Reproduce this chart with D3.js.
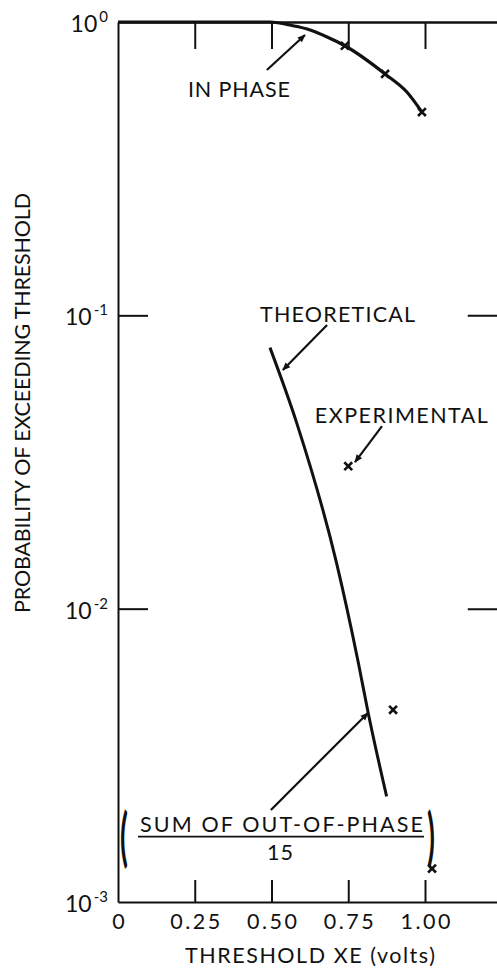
<!DOCTYPE html>
<html>
<head>
<meta charset="utf-8">
<script src="https://cdn.jsdelivr.net/npm/d3@7"></script>
<style>
  html, body { margin: 0; padding: 0; background: #fff; }
  svg { display: block; }
  text { font-family: Lato, "Noto Sans", sans-serif; fill: #111; }
</style>
</head>
<body>
<svg id="chart" width="497" height="968"></svg>
<script>
// Threshold (volts) tick values and their printed labels
const xTickValues = [0, 0.25, 0.5, 0.75, 1.0];
const xTickLabels = ["0", "0.25", "0.50", "0.75", "1.00"];
// Decades on the log probability axis and their exponents
const yTickValues = [1, 0.1, 0.01, 0.001];
const yTickExponents = ["0", "-1", "-2", "-3"];

// In-phase probability curve
const inPhaseX = [0, 0.3, 0.495, 0.57, 0.616, 0.681, 0.739, 0.87, 0.941, 0.99];
const inPhaseY = [1, 1, 1, 0.971, 0.946, 0.889, 0.83, 0.665, 0.577, 0.493];
// In-phase measured points
const inPhaseMarkX = [0.739, 0.87, 0.99];
const inPhaseMarkY = [0.83, 0.665, 0.493];

// Theoretical sum of out-of-phase / 15
const theoryX = [0.495, 0.582, 0.712, 0.783, 0.815, 0.875];
const theoryY = [0.0776, 0.043, 0.0143, 0.00653, 0.00441, 0.00229];
// Experimental sum of out-of-phase / 15
const experimentX = [0.75, 0.896, 1.023];
const experimentY = [0.0306, 0.00452, 0.0013];

const svg = d3.select("#chart");

const x = d3.scaleLinear().domain([0, 1.25]).range([118, 501.75]);
const y = d3.scaleLog().domain([0.001, 1]).range([902, 22]);

const ink = "#111";
const labelSize = 21.5;

// Arrowhead marker
svg.append("defs").append("marker")
  .attr("id", "head")
  .attr("viewBox", "0 0 10 10")
  .attr("refX", 9).attr("refY", 5)
  .attr("markerUnits", "userSpaceOnUse")
  .attr("markerWidth", 11).attr("markerHeight", 8)
  .attr("orient", "auto")
  .append("path")
  .attr("d", "M0,0.8 L10,5 L0,9.2 Z")
  .attr("fill", ink);

function styleAxis(g, width) {
  g.select(".domain").attr("stroke", ink).attr("stroke-width", width);
  g.selectAll(".tick line").attr("stroke", ink).attr("stroke-width", 2);
}

// Bottom axis with inward ticks
const axisB = svg.append("g")
  .attr("transform", `translate(0,${y(0.001)})`)
  .call(d3.axisBottom(x)
    .tickValues(xTickValues)
    .tickSizeInner(-22).tickSizeOuter(0)
    .tickPadding(12)
    .tickFormat((d, i) => xTickLabels[i]));
styleAxis(axisB, 2);
axisB.selectAll(".tick text")
  .attr("font-size", labelSize)
  .attr("font-family", "Lato, sans-serif")
  .attr("fill", ink)
  .each(function (d, i) {
    if (xTickLabels[i].length > 1) d3.select(this).attr("textLength", 50).attr("lengthAdjust", "spacing");
  });
axisB.select(".tick line").attr("stroke", "none");

// Top axis (ticks only)
const axisT = svg.append("g")
  .attr("transform", `translate(0,${y(1)})`)
  .call(d3.axisTop(x)
    .tickValues(xTickValues.slice(1))
    .tickSizeInner(-27).tickSizeOuter(0)
    .tickFormat(""));
styleAxis(axisT, 2.5);

// Left axis with inward ticks
const axisL = svg.append("g")
  .attr("transform", `translate(${x(0)},0)`)
  .call(d3.axisLeft(y)
    .tickValues(yTickValues.slice(1, 3))
    .tickSizeInner(-30).tickSizeOuter(0)
    .tickFormat(""));
styleAxis(axisL, 2);

// Right axis ticks
const axisR = svg.append("g")
  .attr("transform", `translate(${x(1.25)},0)`)
  .call(d3.axisRight(y)
    .tickValues(yTickValues.slice(1, 3))
    .tickSizeInner(-34).tickSizeOuter(0)
    .tickFormat(""));
styleAxis(axisR, 2);

// Power-of-ten labels
const yLab = svg.append("g").selectAll("text")
  .data(yTickValues)
  .join("text")
  .attr("x", 108)
  .attr("y", d => y(d) + 10)
  .attr("text-anchor", "end")
  .attr("font-size", 23);
yLab.append("tspan").text("10");
yLab.append("tspan")
  .attr("font-size", 15)
  .attr("dy", -10)
  .attr("dx", 2)
  .text((d, i) => yTickExponents[i]);

// Axis titles
svg.append("text")
  .attr("x", 310).attr("y", 963)
  .attr("text-anchor", "middle")
  .attr("font-size", labelSize)
  .attr("textLength", 250).attr("lengthAdjust", "spacing")
  .text("THRESHOLD XE (volts)");

svg.append("text")
  .attr("transform", "translate(30,403) rotate(-90)")
  .attr("text-anchor", "middle")
  .attr("font-size", labelSize)
  .attr("textLength", 420).attr("lengthAdjust", "spacing")
  .text("PROBABILITY OF EXCEEDING THRESHOLD");

// Curves
const line = d3.line()
  .x(d => x(d[0]))
  .y(d => y(d[1]))
  .curve(d3.curveMonotoneX);

svg.append("path")
  .datum(d3.zip(inPhaseX, inPhaseY))
  .attr("d", line)
  .attr("fill", "none")
  .attr("stroke", ink)
  .attr("stroke-width", 3.2);

svg.append("path")
  .datum(d3.zip(theoryX, theoryY))
  .attr("d", line)
  .attr("fill", "none")
  .attr("stroke", ink)
  .attr("stroke-width", 3);

// Measured points as x symbols
const xSym = d3.symbol(d3.symbolX).size(42);
svg.append("g").selectAll("path")
  .data(d3.zip(inPhaseMarkX, inPhaseMarkY).concat(d3.zip(experimentX, experimentY)))
  .join("path")
  .attr("transform", d => `translate(${x(d[0])},${y(d[1])})`)
  .attr("d", xSym)
  .attr("fill", "none")
  .attr("stroke", ink)
  .attr("stroke-width", 2.6);

// Annotations (anchored in data space)
function label(txt, xv, yv, len) {
  return svg.append("text")
    .attr("x", x(xv)).attr("y", y(yv))
    .attr("text-anchor", "middle")
    .attr("font-size", labelSize)
    .attr("textLength", len).attr("lengthAdjust", "spacing")
    .text(txt);
}
function arrow(x0, y0, x1, y1) {
  svg.append("line")
    .attr("x1", x(x0)).attr("y1", y(y0))
    .attr("x2", x(x1)).attr("y2", y(y1))
    .attr("stroke", ink)
    .attr("stroke-width", 2.2)
    .attr("marker-end", "url(#head)");
}

label("IN PHASE", 0.394, 0.555, 102);
arrow(0.485, 0.686, 0.609, 0.903);

label("THEORETICAL", 0.715, 0.0949, 155);
arrow(0.681, 0.0927, 0.537, 0.0651);

label("EXPERIMENTAL", 0.923, 0.0430, 173);
arrow(0.860, 0.0419, 0.772, 0.0316);

const sum = label("SUM OF OUT-OF-PHASE", 0.5326, 0.00173, 283);
arrow(0.498, 0.00206, 0.814, 0.00441);

// Fraction bar, denominator and enclosing parentheses
const bb = sum.node().getBBox();
const barY = y(0.00167);
svg.append("line")
  .attr("x1", bb.x - 2).attr("x2", bb.x + bb.width + 1)
  .attr("y1", barY).attr("y2", barY)
  .attr("stroke", ink).attr("stroke-width", 1.6);
label("15", 0.5277, 0.00139, 26);

const parenScale = 2.2;
[["(", bb.x - 20], [")", bb.x + bb.width + 4]].forEach(([ch, px]) => {
  svg.append("text")
    .attr("transform", `translate(${px},${barY + 22}) scale(1,${parenScale})`)
    .attr("font-size", 29)
    .attr("font-weight", 700)
    .text(ch);
});
</script>
</body>
</html>
